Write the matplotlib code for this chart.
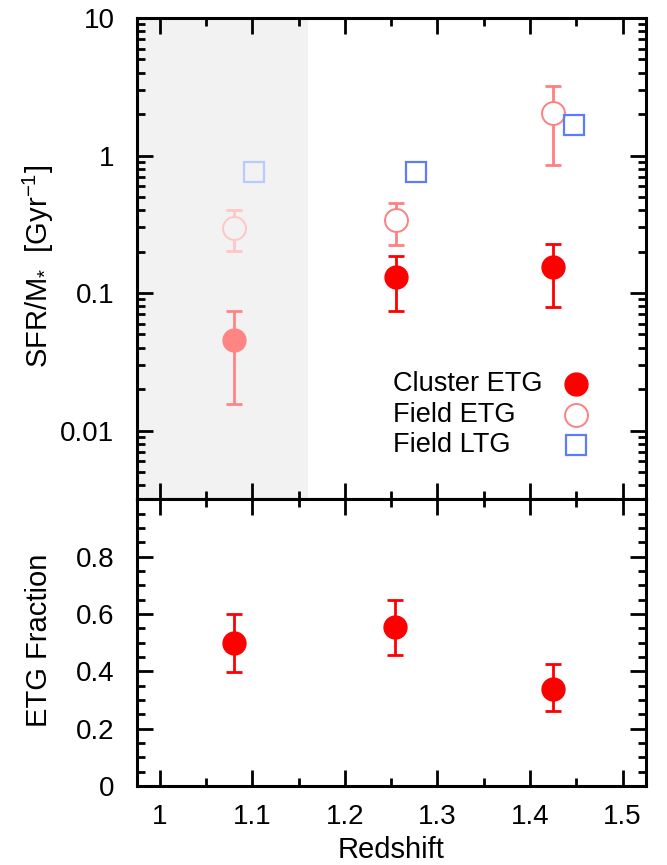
import matplotlib
matplotlib.use('Agg')
import matplotlib.pyplot as plt
import numpy as np
from matplotlib.ticker import FixedLocator, MultipleLocator, NullFormatter, FixedFormatter

plt.rcParams['font.family'] = ['Liberation Sans', 'DejaVu Sans']
plt.rcParams['mathtext.fontset'] = 'custom'
plt.rcParams['mathtext.rm'] = 'Liberation Sans'
plt.rcParams['mathtext.it'] = 'Liberation Sans:italic'
plt.rcParams['mathtext.bf'] = 'Liberation Sans:bold'

# ---------------- data ----------------
z_cluster = [1.08, 1.255, 1.425]
ssfr_cluster = [0.0452, 0.1306, 0.1546]
ssfr_cluster_hi = [0.0738, 0.185, 0.2275]
ssfr_cluster_lo = [0.0156, 0.0738, 0.0798]

z_field_etg = [1.08, 1.255, 1.425]
ssfr_field_etg = [0.299, 0.339, 2.03]
ssfr_field_etg_hi = [0.40, 0.455, 3.21]
ssfr_field_etg_lo = [0.201, 0.225, 0.853]

z_field_ltg = [1.102, 1.277, 1.4475]
ssfr_field_ltg = [0.762, 0.762, 1.67]

z_frac = [1.0804, 1.2545, 1.4246]
etg_frac = [0.499, 0.554, 0.339]
etg_frac_hi = [0.601, 0.648, 0.425]
etg_frac_lo = [0.396, 0.457, 0.261]

shade_max = 1.16
xlim = (0.975, 1.525)
x_ticks = [1.0, 1.1, 1.2, 1.3, 1.4, 1.5]
x_ticklabels = ['1', '1.1', '1.2', '1.3', '1.4', '1.5']
y1_ticks = [0.01, 0.1, 1, 10]
y1_ticklabels = ['0.01', '0.1', '1', '10']
y2_ticks = [0, 0.2, 0.4, 0.6, 0.8]
y2_ticklabels = ['0', '0.2', '0.4', '0.6', '0.8']
legend_labels = ['Cluster ETG', 'Field ETG', 'Field LTG']

# ---------------- styles ----------------
RED = '#FF0000'
RED_FADE = '#FF8585'
PINK = '#FF8080'
PINK_FADE = '#FFC6C6'
BLUE = '#5C7CFF'
BLUE_FADE = '#B8CBFF'
SHADE = '#F2F2F2'
FS_TICK = 20
FS_LAB = 21
FS_LEG = 19.5
LW_AX = 2.2
ELW = 2.0
CAP = 5.5
MS_C = 16.5
MS_S = 14.5

fig = plt.figure(figsize=(6.67, 8.65), dpi=100)
ax1 = fig.add_axes([0.2049, 0.42277, 0.7631, 0.5564])
ax2 = fig.add_axes([0.2049, 0.09133, 0.7631, 0.33144])

# ---------------- top panel ----------------
ax1.set_yscale('log')
ax1.axvspan(xlim[0], shade_max, color=SHADE, zorder=0, lw=0)

for x, y, hi, lo in zip(z_field_etg, ssfr_field_etg, ssfr_field_etg_hi, ssfr_field_etg_lo):
    faded = x < shade_max
    c = PINK_FADE if faded else PINK
    ax1.errorbar([x], [y], yerr=[[y - lo], [hi - y]], fmt='none', ecolor=c,
                 elinewidth=ELW, capsize=CAP, capthick=ELW, zorder=2)
    ax1.plot([x], [y], 'o', ms=MS_C, mfc=SHADE if faded else 'white', mec=c, mew=1.4, zorder=3)

for x, y, hi, lo in zip(z_cluster, ssfr_cluster, ssfr_cluster_hi, ssfr_cluster_lo):
    faded = x < shade_max
    c = RED_FADE if faded else RED
    ax1.errorbar([x], [y], yerr=[[y - lo], [hi - y]], fmt='none', ecolor=c,
                 elinewidth=ELW, capsize=CAP, capthick=ELW, zorder=2)
    ax1.plot([x], [y], 'o', ms=MS_C, mfc=c, mec=c, mew=1.0, zorder=3)

for x, y in zip(z_field_ltg, ssfr_field_ltg):
    faded = x < shade_max
    c = BLUE_FADE if faded else BLUE
    ax1.plot([x], [y], 's', ms=MS_S, mfc='none', mec=c, mew=1.6, zorder=4)

ax1.set_xlim(*xlim)
ax1.set_ylim(10 ** -2.5, 10)
ax1.yaxis.set_major_locator(FixedLocator(y1_ticks))
ax1.yaxis.set_major_formatter(FixedFormatter(y1_ticklabels))
minor = [m * 10.0 ** e for e in range(-3, 1) for m in range(2, 10)]
ax1.yaxis.set_minor_locator(FixedLocator(minor))
ax1.yaxis.set_minor_formatter(NullFormatter())
ax1.xaxis.set_major_locator(FixedLocator(x_ticks))
ax1.xaxis.set_minor_locator(MultipleLocator(0.05))
ax1.tick_params(axis='x', labelbottom=False)

# legend (manual)
leg_y = [0.239, 0.176, 0.112]
for lab, ly in zip(legend_labels, leg_y):
    ax1.text(0.503, ly, lab, transform=ax1.transAxes, ha='left', va='center', fontsize=FS_LEG)
ax1.plot([0.864], [leg_y[0]], 'o', transform=ax1.transAxes, ms=MS_C, mfc=RED, mec=RED, zorder=5)
ax1.plot([0.864], [leg_y[1]], 'o', transform=ax1.transAxes, ms=MS_C, mfc='white', mec=PINK, mew=1.4, zorder=5)
ax1.plot([0.864], [leg_y[2]], 's', transform=ax1.transAxes, ms=MS_S, mfc='none', mec=BLUE, mew=1.6, zorder=5)

# ---------------- bottom panel ----------------
for x, y, hi, lo in zip(z_frac, etg_frac, etg_frac_hi, etg_frac_lo):
    ax2.errorbar([x], [y], yerr=[[y - lo], [hi - y]], fmt='none', ecolor=RED,
                 elinewidth=ELW, capsize=CAP, capthick=ELW, zorder=2)
    ax2.plot([x], [y], 'o', ms=MS_C, mfc=RED, mec=RED, mew=1.0, zorder=3)

ax2.set_xlim(*xlim)
ax2.set_ylim(0, 1.0)
ax2.yaxis.set_major_locator(FixedLocator(y2_ticks + [1.0]))
ax2.yaxis.set_major_formatter(FixedFormatter(y2_ticklabels + ['']))
ax2.yaxis.set_minor_locator(MultipleLocator(0.05))
ax2.xaxis.set_major_locator(FixedLocator(x_ticks))
ax2.xaxis.set_major_formatter(FixedFormatter(x_ticklabels))
ax2.xaxis.set_minor_locator(MultipleLocator(0.05))
ax2.set_xlabel('Redshift', fontsize=FS_LAB, labelpad=4)

for ax in (ax1, ax2):
    for s in ax.spines.values():
        s.set_linewidth(LW_AX)
        s.set_zorder(10)
    ax.tick_params(which='both', direction='in', top=True, right=True, width=2.0, labelsize=FS_TICK)
    ax.tick_params(which='major', length=11.5)
    ax.tick_params(which='minor', length=6)
    ax.tick_params(axis='y', pad=16)
    ax.tick_params(axis='x', pad=13)

fig.text(0.058, 0.6925, 'SFR/M$_{*}$  [Gyr$^{-1}$]', rotation=90, ha='center', va='center', fontsize=FS_LAB)
fig.text(0.058, 0.260, 'ETG Fraction', rotation=90, ha='center', va='center', fontsize=FS_LAB)

fig.savefig('out.png', dpi=100)
